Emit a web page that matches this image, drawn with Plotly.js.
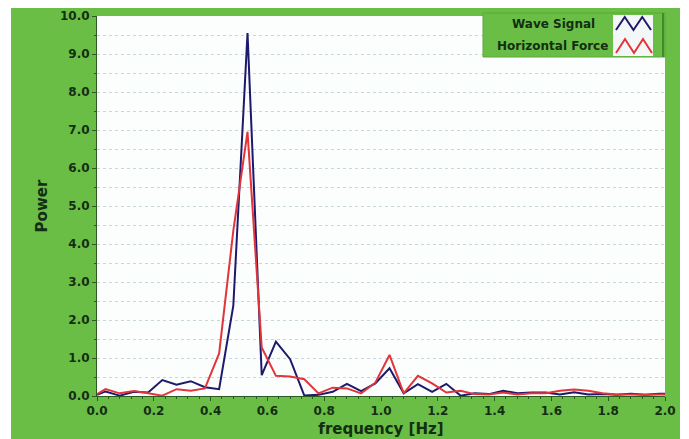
<!DOCTYPE html>
<html>
<head>
<meta charset="utf-8">
<script src="https://cdn.plot.ly/plotly-3.0.1.min.js"></script>
<style>
  html, body { margin: 0; padding: 0; background: #ffffff; width: 689px; height: 439px; overflow: hidden; }
  #chart { position: absolute; left: 11px; top: 8px; width: 669px; height: 431px; }
</style>
</head>
<body>
<div id="chart"></div>
<script>
// Data
var frequency = [0.00, 0.03, 0.08, 0.13, 0.18, 0.23, 0.28, 0.33, 0.38, 0.43,
                 0.48, 0.53, 0.58, 0.63, 0.68, 0.73, 0.78, 0.83, 0.88, 0.93,
                 0.98, 1.03, 1.08, 1.13, 1.18, 1.23, 1.28, 1.33, 1.38, 1.43,
                 1.48, 1.53, 1.58, 1.63, 1.68, 1.73, 1.78, 1.83, 1.88, 1.93,
                 1.98, 2.00];
var waveSignal = [0.03, 0.12, 0.01, 0.11, 0.09, 0.42, 0.30, 0.39, 0.23, 0.18,
                  2.38, 9.55, 0.55, 1.43, 0.97, 0.01, 0.03, 0.11, 0.32, 0.13,
                  0.33, 0.73, 0.07, 0.31, 0.11, 0.32, 0.01, 0.07, 0.05, 0.14,
                  0.07, 0.09, 0.09, 0.04, 0.10, 0.04, 0.05, 0.03, 0.06, 0.03,
                  0.06, 0.06];
var horizontalForce = [0.05, 0.18, 0.07, 0.13, 0.07, 0.01, 0.18, 0.14, 0.20, 1.12,
                       4.35, 6.95, 1.28, 0.53, 0.51, 0.44, 0.07, 0.22, 0.20, 0.07,
                       0.35, 1.08, 0.07, 0.53, 0.33, 0.09, 0.14, 0.05, 0.04, 0.09,
                       0.04, 0.07, 0.07, 0.14, 0.17, 0.14, 0.07, 0.04, 0.04, 0.03,
                       0.04, 0.04];
var seriesNames = ["Wave Signal", "Horizontal Force"];
var xTickVals = [0.0, 0.2, 0.4, 0.6, 0.8, 1.0, 1.2, 1.4, 1.6, 1.8, 2.0];
var yTickVals = [0, 1, 2, 3, 4, 5, 6, 7, 8, 9, 10];

var GREEN = "#6bbe45";
var DARK = "#132e13";
var BLUE = "#1d1a6b";
var RED = "#e0353b";
var FONT = "DejaVu Sans";

// plot-area pixel geometry (page coordinates) for legend decoration
var PL = 97, PR = 665, PT = 16, PB = 396;
function px(x) { return (x - PL) / (PR - PL); }
function py(y) { return (PB - y) / (PB - PT); }
function zig(x0, x1, yTop, yBot) {
  var n = 4, s = "";
  for (var i = 0; i <= n; i++) {
    var X = x0 + (x1 - x0) * i / n;
    var Y = (i % 2 === 0) ? yBot : yTop;
    s += (i === 0 ? "M" : " L") + px(X).toFixed(4) + "," + py(Y).toFixed(4);
  }
  return s;
}

var traces = [
  { x: frequency, y: waveSignal, name: seriesNames[0], type: "scatter", mode: "lines",
    line: { color: BLUE, width: 2 } },
  { x: frequency, y: horizontalForce, name: seriesNames[1], type: "scatter", mode: "lines",
    line: { color: RED, width: 2 } }
];

var tickFont = { family: FONT, size: 12, color: DARK, weight: "bold" };
var titleFont = { family: FONT, size: 15, color: DARK, weight: "bold" };

var layout = {
  width: 669, height: 431,
  margin: { l: 86, r: 15, t: 8, b: 43 },
  paper_bgcolor: GREEN,
  plot_bgcolor: "#fcfdfd",
  showlegend: false,
  xaxis: {
    range: [0, 2], tickvals: xTickVals, tickformat: ".1f",
    ticks: "outside", ticklen: 4, tickwidth: 1, tickcolor: "#2b5a22",
    tickfont: tickFont,
    showline: true, linecolor: "#2b5a22", linewidth: 1,
    showgrid: false, zeroline: false,
    minor: { dtick: 0.04, ticks: "outside", ticklen: 2, tickcolor: "#2b5a22", showgrid: false },
    title: { text: "frequency [Hz]", font: titleFont, standoff: 6 }
  },
  yaxis: {
    range: [0, 10], tickvals: yTickVals, tickformat: ".1f",
    ticks: "outside", ticklen: 4, tickwidth: 1, tickcolor: "#2b5a22",
    tickfont: tickFont,
    showline: true, linecolor: "#2b5a22", linewidth: 1,
    showgrid: true, gridcolor: "#c6d6dd", griddash: "dot", gridwidth: 1,
    zeroline: false,
    minor: { dtick: 0.5, ticks: "outside", ticklen: 2, tickcolor: "#2b5a22",
             showgrid: true, gridcolor: "#c6d6dd", griddash: "dot", gridwidth: 1 },
    title: { text: "Power", font: titleFont, standoff: 8 }
  },
  shapes: [
    { type: "rect", xref: "paper", yref: "paper", x0: px(483), x1: px(665), y0: py(57), y1: py(13),
      fillcolor: GREEN, line: { color: "#58a83a", width: 1 }, layer: "above" },
    { type: "line", xref: "paper", yref: "paper", x0: px(663), x1: px(663), y0: py(57), y1: py(13),
      line: { color: "#3f8c2c", width: 2 }, layer: "above" },
    { type: "rect", xref: "paper", yref: "paper", x0: px(613), x1: px(653), y0: py(56), y1: py(15),
      fillcolor: "#f4f7f7", line: { width: 0 }, layer: "above" },
    { type: "path", xref: "paper", yref: "paper", path: zig(616, 651, 17, 30),
      line: { color: BLUE, width: 2 }, layer: "above" },
    { type: "path", xref: "paper", yref: "paper", path: zig(616, 652, 39, 53),
      line: { color: RED, width: 2 }, layer: "above" }
  ],
  annotations: [
    { xref: "paper", yref: "paper", x: px(553), y: py(24), text: seriesNames[0], showarrow: false,
      xanchor: "center", yanchor: "middle", font: { family: FONT, size: 12, color: DARK, weight: "bold" } },
    { xref: "paper", yref: "paper", x: px(552.5), y: py(46.5), text: seriesNames[1], showarrow: false,
      xanchor: "center", yanchor: "middle", font: { family: FONT, size: 12, color: DARK, weight: "bold" } }
  ]
};

Plotly.newPlot("chart", traces, layout, { displayModeBar: false, staticPlot: true });
</script>
</body>
</html>
